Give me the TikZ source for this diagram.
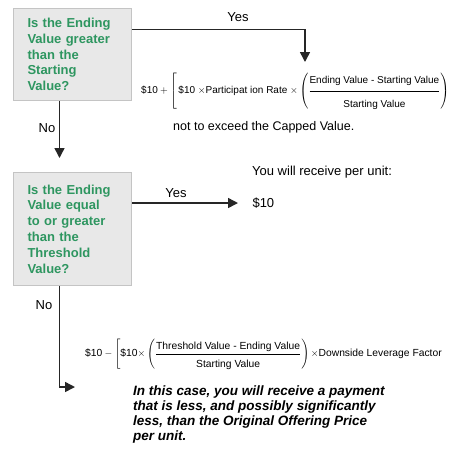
\documentclass[tikz,border=0pt]{standalone}
\usepackage{amsmath}
\usepackage{fontspec}
\setmainfont{Liberation Sans}
\usetikzlibrary{arrows.meta}
\definecolor{verde}{RGB}{46,150,96}
\definecolor{caja}{RGB}{232,232,232}
\definecolor{borde}{RGB}{196,196,196}

\begin{document}
\begin{tikzpicture}[x=1pt, y=-1pt,
  pregunta/.style={rectangle, draw=borde, line width=1pt, fill=caja, text=verde,
    font=\fontsize{13}{15.8}\selectfont\bfseries, text width=90pt, align=left,
    inner xsep=14pt, minimum height=92pt},
  etiqueta/.style={font=\fontsize{13}{15}\selectfont},
  formula/.style={font=\fontsize{10}{12}\selectfont, anchor=west, inner sep=0pt},
  flecha/.style={line width=1.5pt, draw=black!85, -{Triangle[width=10pt,length=10pt]}}]
  \useasboundingbox (0,0) rectangle (452,448);

  % Nodos
  \node[pregunta, anchor=north west] (q1) at (13,8) {Is the Ending\\ Value greater\\ than the\\ Starting\\ Value?};
  \node[pregunta, minimum height=113pt] (q2) [below of=q1, node distance=174.5pt] {Is the Ending\\ Value equal\\ to or greater\\ than the\\ Threshold\\ Value?};

  \node[formula] (f1) at (141,91) {$\text{\$10} + \left[\,\text{\$10 }{\times}\text{Participat ion Rate }{\times}\left(\dfrac{\text{Ending Value - Starting Value}\rule[-6pt]{0pt}{9pt}}{\text{Starting Value}\rule{0pt}{15pt}}\right)\right.$};
  \node[etiqueta, anchor=west, inner sep=0pt, font=\fontsize{12.5}{15}\selectfont] (tope) at (173,127) {not to exceed the Capped Value.};

  \node[etiqueta, anchor=west, inner sep=0pt] (recibe) at (252,172) {You will receive per unit:};
  \node[etiqueta, anchor=west] (v10) at (249,203) {\$10};

  \node[formula, font=\fontsize{10.3}{12}\selectfont] (f2) at (85,354) {$\text{\$10} - \left[\text{\$10}{\times}\left(\dfrac{\text{Threshold Value - Ending Value}\rule[-3pt]{0pt}{9pt}}{\text{Starting Value}\rule{0pt}{12pt}}\right){\times}\text{Downside Leverage Factor}\right.$};
  \node[anchor=north west, align=left, inner sep=0pt, font=\fontsize{13.5}{15}\selectfont\bfseries\itshape] (aviso) at (133,386) {In this case, you will receive a payment\\ that is less, and possibly significantly\\ less, than the Original Offering Price\\ per unit.};

  \coordinate (p1) at (305,62);
  \coordinate (p2) at (75,387);

  % Flechas
  \draw[flecha] ([yshift=25pt]q1.east) -| (p1);
  \node[etiqueta] (si1) at (238,17) {Yes};
  \draw[flecha] ([xshift=-13pt]q1.south) -- ([xshift=-13pt, yshift=14pt]q2.north);
  \node[etiqueta] (no1) at (47,128) {No};

  \draw[flecha, shorten >=11pt] (q2.east |- v10.west) -- (v10.west);
  \node[etiqueta] (si2) at (176,193) {Yes};
  \draw[flecha] ([xshift=-13pt]q2.south) |- (p2);
  \node[etiqueta] (no2) at (44,305) {No};
\end{tikzpicture}
\end{document}
